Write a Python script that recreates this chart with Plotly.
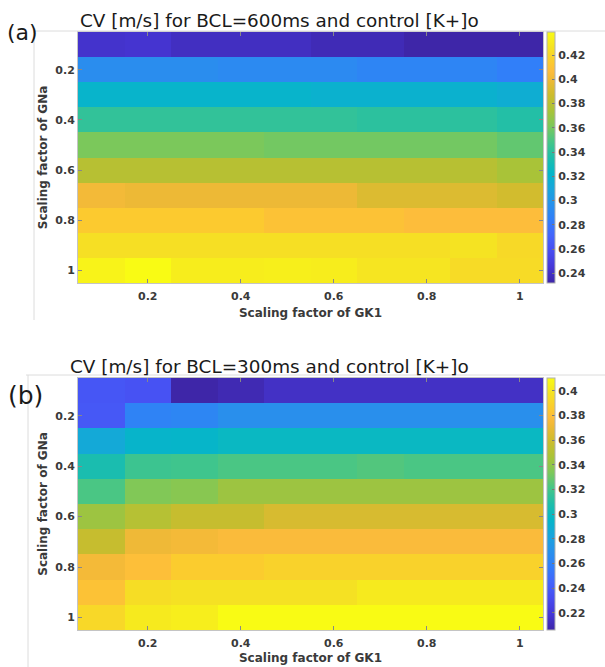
import plotly.graph_objects as go

# ---------------- data ----------------
gk1 = [0.1, 0.2, 0.3, 0.4, 0.5, 0.6, 0.7, 0.8, 0.9, 1.0]   # x: scaling factor of GK1
gna = [0.1, 0.2, 0.3, 0.4, 0.5, 0.6, 0.7, 0.8, 0.9, 1.0]   # y: scaling factor of GNa

# CV [m/s], BCL = 600 ms (rows = GNa 0.1..1, cols = GK1 0.1..1)
cv_600 = [
    [0.242, 0.243, 0.239, 0.239, 0.239, 0.236, 0.236, 0.232, 0.232, 0.232],
    [0.294, 0.294, 0.294, 0.292, 0.292, 0.292, 0.289, 0.289, 0.289, 0.285],
    [0.321, 0.321, 0.321, 0.321, 0.321, 0.319, 0.319, 0.319, 0.319, 0.316],
    [0.342, 0.342, 0.342, 0.342, 0.342, 0.342, 0.340, 0.340, 0.340, 0.337],
    [0.361, 0.361, 0.361, 0.361, 0.359, 0.359, 0.359, 0.359, 0.359, 0.355],
    [0.379, 0.379, 0.379, 0.379, 0.379, 0.379, 0.379, 0.379, 0.379, 0.374],
    [0.402, 0.399, 0.399, 0.399, 0.399, 0.399, 0.393, 0.393, 0.393, 0.389],
    [0.414, 0.414, 0.414, 0.414, 0.410, 0.410, 0.410, 0.407, 0.407, 0.407],
    [0.425, 0.425, 0.425, 0.425, 0.425, 0.425, 0.425, 0.425, 0.427, 0.422],
    [0.435, 0.439, 0.432, 0.432, 0.433, 0.432, 0.428, 0.428, 0.423, 0.423],
]

# CV [m/s], BCL = 300 ms
cv_300 = [
    [0.237, 0.235, 0.206, 0.209, 0.214, 0.214, 0.214, 0.214, 0.214, 0.214],
    [0.238, 0.261, 0.263, 0.269, 0.269, 0.269, 0.269, 0.269, 0.269, 0.269],
    [0.286, 0.294, 0.295, 0.298, 0.298, 0.298, 0.298, 0.298, 0.298, 0.298],
    [0.306, 0.318, 0.319, 0.322, 0.322, 0.322, 0.324, 0.322, 0.322, 0.322],
    [0.322, 0.335, 0.337, 0.343, 0.343, 0.343, 0.343, 0.343, 0.343, 0.343],
    [0.343, 0.351, 0.357, 0.357, 0.363, 0.363, 0.363, 0.363, 0.363, 0.363],
    [0.357, 0.372, 0.374, 0.377, 0.377, 0.377, 0.377, 0.377, 0.377, 0.377],
    [0.374, 0.380, 0.387, 0.387, 0.390, 0.390, 0.390, 0.390, 0.390, 0.390],
    [0.382, 0.396, 0.398, 0.398, 0.398, 0.398, 0.402, 0.402, 0.402, 0.402],
    [0.393, 0.402, 0.404, 0.4105, 0.4105, 0.4105, 0.4105, 0.4105, 0.4105, 0.4105],
]

axis_ticks = [0.2, 0.4, 0.6, 0.8, 1.0]
axis_ticklabels = ["0.2", "0.4", "0.6", "0.8", "1"]
cb_ticks_600 = [0.24, 0.26, 0.28, 0.30, 0.32, 0.34, 0.36, 0.38, 0.40, 0.42]
cb_labels_600 = ["0.24", "0.26", "0.28", "0.3", "0.32", "0.34", "0.36", "0.38", "0.4", "0.42"]
cb_ticks_300 = [0.22, 0.24, 0.26, 0.28, 0.30, 0.32, 0.34, 0.36, 0.38, 0.40]
cb_labels_300 = ["0.22", "0.24", "0.26", "0.28", "0.3", "0.32", "0.34", "0.36", "0.38", "0.4"]

title_a = "CV [m/s] for BCL=600ms and control [K+]o"
title_b = "CV [m/s] for BCL=300ms and control [K+]o"
xlabel = "Scaling factor of GK1"
ylabel = "Scaling factor of GNa"

# approximate MATLAB parula
parula = [
    [0.000, "rgb(62,38,168)"],
    [0.063, "rgb(70,55,215)"],
    [0.125, "rgb(72,76,240)"],
    [0.188, "rgb(68,100,252)"],
    [0.250, "rgb(50,125,250)"],
    [0.313, "rgb(40,145,235)"],
    [0.375, "rgb(25,165,220)"],
    [0.438, "rgb(5,182,200)"],
    [0.500, "rgb(30,190,170)"],
    [0.563, "rgb(70,198,135)"],
    [0.625, "rgb(125,200,90)"],
    [0.688, "rgb(170,195,55)"],
    [0.750, "rgb(205,188,45)"],
    [0.813, "rgb(240,185,55)"],
    [0.844, "rgb(253,188,60)"],
    [0.875, "rgb(252,200,48)"],
    [0.938, "rgb(245,225,35)"],
    [1.000, "rgb(249,251,20)"],
]

W, H = 605, 667
FONT = "DejaVu Sans"
TXT = "#3a3a3a"


def px_x(p):
    return p / W


def px_y(p):
    return 1 - p / H


def zrange(m):
    flat = [v for r in m for v in r]
    return min(flat), max(flat)


fig = go.Figure()

panels = [
    dict(z=cv_600, xa="x", ya="y", top=32, bot=283, ticks=cb_ticks_600, labels=cb_labels_600),
    dict(z=cv_300, xa="x2", ya="y2", top=378, bot=630, ticks=cb_ticks_300, labels=cb_labels_300),
]

for p in panels:
    zmin, zmax = zrange(p["z"])
    fig.add_trace(go.Heatmap(
        x=gk1, y=gna, z=p["z"], xaxis=p["xa"], yaxis=p["ya"],
        colorscale=parula, zmin=zmin, zmax=zmax,
        colorbar=dict(
            x=px_x(547), xanchor="left", xpad=0, ypad=0,
            thickness=8, thicknessmode="pixels",
            len=(p["bot"] - p["top"]) / H, lenmode="fraction",
            y=px_y((p["top"] + p["bot"]) / 2), yanchor="middle",
            outlinewidth=1, outlinecolor="#b0b0b0",
            ticks="inside", ticklen=3, tickcolor="#777",
            tickvals=p["ticks"], ticktext=p["labels"],
            tickfont=dict(family=FONT, size=11, color=TXT, weight="bold"),
        ),
        hovertemplate="GK1=%{x}<br>GNa=%{y}<br>CV=%{z}<extra></extra>",
    ))

axis_common = dict(
    tickvals=axis_ticks, ticktext=axis_ticklabels,
    ticks="inside", ticklen=4, tickcolor="#888",
    showline=True, linecolor="#c4c4c4", linewidth=1, mirror="ticks",
    showgrid=False, zeroline=False, automargin=False,
    tickfont=dict(family=FONT, size=11, color=TXT, weight="bold"),
)

title_font = dict(family=FONT, size=12, color=TXT, weight="bold")
xdom = [px_x(78), px_x(543)]
fig.update_layout(
    width=W, height=H,
    margin=dict(l=0, r=0, t=0, b=0),
    paper_bgcolor="white", plot_bgcolor="white",
    template="none",
    showlegend=False,
    xaxis=dict(domain=xdom, range=[0.05, 1.05], anchor="y", ticklabelstandoff=3,
               title=dict(text=xlabel, standoff=6, font=title_font), **axis_common),
    yaxis=dict(domain=[px_y(283), px_y(32)], range=[1.05, 0.05], anchor="x",
               title=dict(text=ylabel, standoff=5, font=title_font), **axis_common),
    xaxis2=dict(domain=xdom, range=[0.05, 1.05], anchor="y2", ticklabelstandoff=3,
                title=dict(text=xlabel, standoff=4, font=title_font), **axis_common),
    yaxis2=dict(domain=[px_y(630), px_y(378)], range=[1.05, 0.05], anchor="x2",
                title=dict(text=ylabel, standoff=5, font=title_font), **axis_common),
)

# frame lines of the original figure windows
line_style = dict(color="#dcdcdc", width=1)
fig.add_shape(type="line", xref="paper", yref="paper", x0=px_x(33), x1=1, y0=px_y(31), y1=px_y(31), line=line_style)
fig.add_shape(type="line", xref="paper", yref="paper", x0=px_x(34), x1=px_x(34), y0=px_y(31), y1=px_y(320), line=line_style)
fig.add_shape(type="line", xref="paper", yref="paper", x0=px_x(26), x1=1, y0=px_y(375), y1=px_y(375), line=line_style)
fig.add_shape(type="line", xref="paper", yref="paper", x0=px_x(28), x1=px_x(28), y0=px_y(375), y1=0, line=line_style)

annotations = [
    dict(text=title_a, x=px_x(78), y=px_y(20), xanchor="left", yanchor="middle",
         font=dict(family=FONT, size=18.4, color="#1a1a1a")),
    dict(text=title_b, x=px_x(68), y=px_y(366), xanchor="left", yanchor="middle",
         font=dict(family=FONT, size=18.4, color="#1a1a1a")),
    dict(text="(a)", x=px_x(22), y=px_y(32), xanchor="center", yanchor="middle",
         font=dict(family=FONT, size=22, color="#1a1a1a")),
    dict(text="(b)", x=px_x(25), y=px_y(395), xanchor="center", yanchor="middle",
         font=dict(family=FONT, size=25, color="#1a1a1a")),
]
for a in annotations:
    fig.add_annotation(xref="paper", yref="paper", showarrow=False, **a)

fig.write_html("out.html", config={"displayModeBar": False},
               post_script="document.body.style.margin='0px';")
